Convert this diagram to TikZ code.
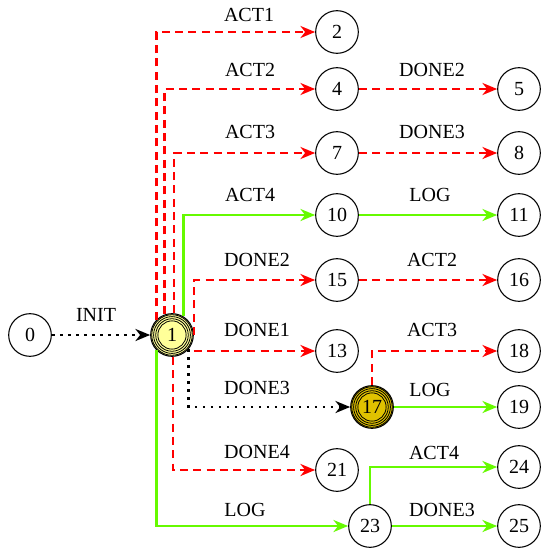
\documentclass[tikz,border=0pt]{standalone}
\usepackage{fontspec}
\setmainfont{Liberation Serif}
\usetikzlibrary{arrows.meta}
\definecolor{evred}{RGB}{255,0,0}
\definecolor{evgreen}{RGB}{102,250,0}
\definecolor{startfill}{RGB}{255,255,153}
\definecolor{goldfill}{RGB}{224,194,0}

\begin{document}
\begin{tikzpicture}[x=0.75pt, y=-0.75pt,
    state/.style={circle, draw, line width=0.8pt, minimum size=32pt, inner sep=0pt, font=\fontsize{15}{17}\selectfont},
    lbl/.style={font=\fontsize{15}{17}\selectfont, inner sep=0pt},
    tip/.style={-{Stealth[length=11pt, width=9pt, inset=3.5pt]}},
    redge/.style={tip, evred, line width=1.9pt, dash pattern=on 6pt off 4pt},
    gedge/.style={tip, evgreen, line width=1.9pt},
    bedge/.style={tip, black, line width=2pt, dash pattern=on 2pt off 4pt}]
    \useasboundingbox (0,0) rectangle (541,550);
    % states
    \node[state] (n0) at (30,335) {0};
    \node[state, fill=startfill] (n1) at (172,335) {1};
    \node[state, fill=goldfill] (n17) at (372,407) {17};
    \foreach \r in {10.6,12.2,13.8,15.2} {
        \draw[line width=0.6pt] (n1.center) circle (\r pt);
        \draw[line width=0.6pt] (n17.center) circle (\r pt);
    }
    \foreach \n/\x/\y in {2/337/32, 4/337/89, 7/337/153, 10/337/215, 15/337/280, 13/337/351,
        21/337/470, 23/370/526, 5/519/89, 8/519/153, 11/519/215, 16/519/280, 18/519/351,
        19/519/407, 24/519/467, 25/519/526}
        \node[state] (n\n) at (\x,\y) {\n};
    % transitions
    \draw[bedge] (n0) -- (n1);
    \draw[redge] (n1.136) |- (n2);
    \draw[redge] (n1.110) |- (n4);
    \draw[redge] (n1.85) |- (n7);
    \draw[gedge] (n1.58) |- (n10);
    \draw[redge] (n1.east) |- (n15);
    \draw[redge] (n1.east |- n13) -- (n13);
    \draw[bedge] (n1.-40) |- (n17);
    \draw[redge] (n1.-87) |- (n21);
    \draw[gedge] (n1.-136) |- (n23);
    \draw[redge] (n4) -- (n5);
    \draw[redge] (n7) -- (n8);
    \draw[gedge] (n10) -- (n11);
    \draw[redge] (n15) -- (n16);
    \draw[redge] (n17.north) |- (n18);
    \draw[gedge] (n17) -- (n19);
    \draw[gedge] (n23.north) |- (n24);
    \draw[gedge] (n23) -- (n25);
    % labels
    \foreach \x/\y/\t [count=\i] in {96/315/INIT, 249/15/ACT1, 250/70/ACT2, 250/132/ACT3,
        250/195/ACT4, 257/260/DONE2, 257/330/DONE1, 257/388/DONE3, 257/452/DONE4, 245/510/LOG,
        432/70/DONE2, 432/132/DONE3, 430/195/LOG, 432/260/ACT2, 432/330/ACT3, 430/390/LOG,
        434/453/ACT4, 442/510/DONE3}
        \node[lbl] (l\i) at (\x,\y) {\t};
\end{tikzpicture}
\end{document}
